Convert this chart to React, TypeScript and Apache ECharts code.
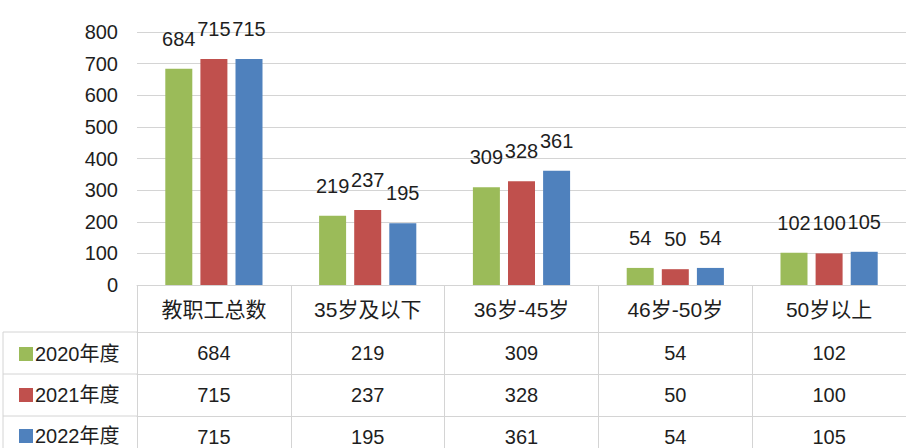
import React, { useEffect, useRef } from "react";
import * as echarts from "echarts";

const categories = ["教职工总数", "35岁及以下", "36岁-45岁", "46岁-50岁", "50岁以上"];
const seriesNames = ["2020年度", "2021年度", "2022年度"];
const s2020 = [684, 219, 309, 54, 102];
const s2021 = [715, 237, 328, 50, 100];
const s2022 = [715, 195, 361, 54, 105];
const colors = ["#9BBB59", "#C0504D", "#4F81BD"];
const yTicks = { min: 0, max: 800, interval: 100 };

const FONT = "'Liberation Sans', 'Noto Sans CJK SC', sans-serif";
const CJK = "'Liberation Sans', 'Noto Sans CJK SC', sans-serif";
const LINE = "#d4d4d4";
const TEXT = "#1e1e1e";

export default function App() {
  const ref = useRef<HTMLDivElement>(null);
  useEffect(() => {
    if (!ref.current) return;
    const chart = echarts.init(ref.current, null, { renderer: "svg" });
    const rows = [s2020, s2021, s2022];
    const tableAxes = rows.map((row, i) => ({
      type: "category",
      data: categories,
      position: "bottom",
      offset: 47 + i * 42,
      gridIndex: 0,
      axisLine: { show: true, lineStyle: { color: LINE, width: 1 } },
      axisTick: { show: false },
      axisLabel: {
        margin: 11,
        fontSize: 20,
        fontFamily: FONT,
        color: TEXT,
        formatter: (_v: string, idx: number) => String(row[idx]),
      },
    }));
    chart.setOption({
      animation: false,
      backgroundColor: "#ffffff",
      grid: { left: 137, top: 32, width: 779, height: 253, containLabel: false },
      legend: {
        data: seriesNames,
        orient: "vertical",
        left: 19,
        top: 344,
        padding: 0,
        itemGap: 21,
        itemWidth: 14,
        itemHeight: 14,
        icon: "rect",
        textStyle: { fontSize: 20, fontFamily: CJK, color: TEXT, padding: [0, 0, 0, -3] },
      },
      xAxis: [
        {
          type: "category",
          data: categories,
          position: "bottom",
          axisLine: { show: true, lineStyle: { color: LINE, width: 1 } },
          axisTick: { show: true, length: 165, lineStyle: { color: LINE, width: 1 } },
          axisLabel: { margin: 14, fontSize: 21, fontFamily: CJK, color: TEXT },
        },
        ...tableAxes,
      ],
      yAxis: {
        type: "value",
        min: yTicks.min,
        max: yTicks.max,
        interval: yTicks.interval,
        axisLine: { show: false },
        axisTick: { show: false },
        splitLine: { lineStyle: { color: LINE, width: 1 } },
        axisLabel: { margin: 19, fontSize: 20, fontFamily: FONT, color: TEXT },
      },
      graphic: [
        { type: "line", shape: { x1: 3, y1: 332, x2: 137, y2: 332 }, style: { stroke: LINE, lineWidth: 1 } },
        { type: "line", shape: { x1: 3, y1: 374, x2: 137, y2: 374 }, style: { stroke: LINE, lineWidth: 1 } },
        { type: "line", shape: { x1: 3, y1: 416, x2: 137, y2: 416 }, style: { stroke: LINE, lineWidth: 1 } },
        { type: "line", shape: { x1: 3, y1: 332, x2: 3, y2: 448 }, style: { stroke: LINE, lineWidth: 1 } },
      ],
      series: rows.map((row, i) => ({
        name: seriesNames[i],
        type: "bar",
        data: row,
        barWidth: 27,
        barGap: "30%",
        itemStyle: { color: colors[i] },
        label: {
          show: true,
          position: "top",
          distance: 20,
          fontSize: 20,
          fontFamily: FONT,
          color: TEXT,
        },
      })),
    });
    return () => chart.dispose();
  }, []);
  return <div ref={ref} style={{ position: "fixed", left: 0, top: 0, width: 906, height: 448 }} />;
}
